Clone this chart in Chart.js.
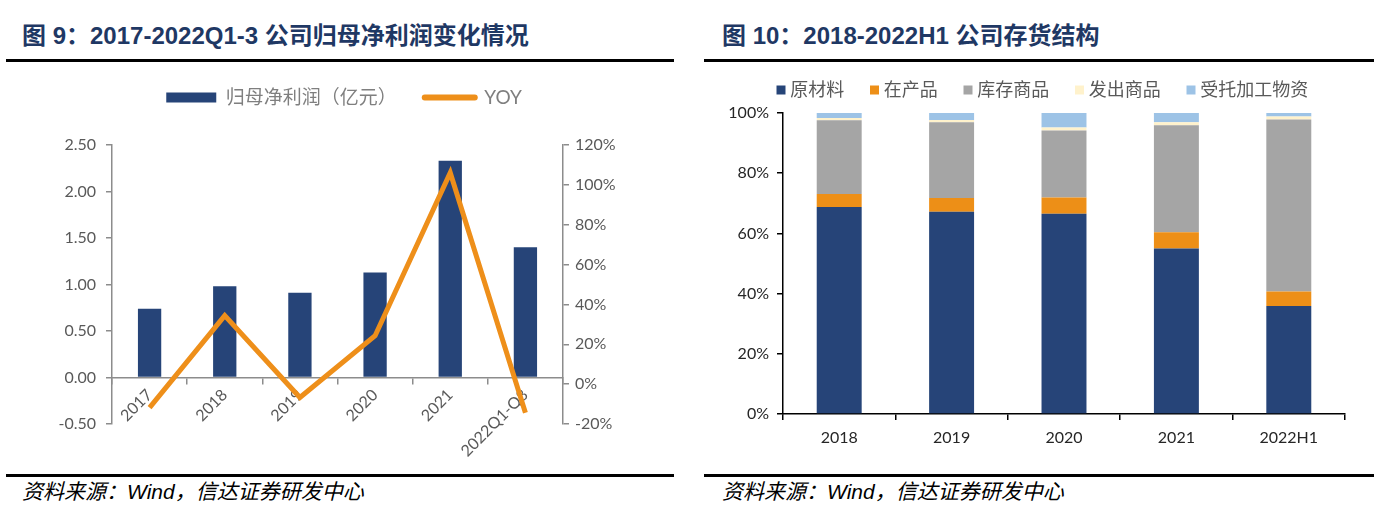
<!DOCTYPE html>
<html><head><meta charset="utf-8">
<script src="https://cdn.jsdelivr.net/npm/chart.js@4.4.0/dist/chart.umd.min.js"></script>
<style>
html,body{margin:0;padding:0;background:#fff;}
body{width:1382px;height:521px;position:relative;overflow:hidden;}
.title{position:absolute;top:22px;height:28px;line-height:28px;font-family:"Liberation Sans","Noto Sans CJK SC",sans-serif;font-weight:bold;font-size:24px;color:#1F3864;white-space:nowrap;}
.rule{position:absolute;height:3px;background:#000;}
.src{position:absolute;top:481px;line-height:22px;font-size:21px;font-style:italic;font-family:"Liberation Sans","Noto Sans CJK SC",sans-serif;color:#000;white-space:nowrap;}
.box{position:absolute;}
</style></head>
<body>
<div class="title" style="left:22px">图 9：2017-2022Q1-3 公司归母净利润变化情况</div>
<div class="title" style="left:722px">图 10：2018-2022H1 公司存货结构</div>
<div class="rule" style="left:6px;width:668px;top:59px"></div>
<div class="rule" style="left:704px;width:670px;top:59px"></div>
<div class="rule" style="left:6px;width:668px;top:474px"></div>
<div class="rule" style="left:704px;width:670px;top:474px"></div>
<div class="src" style="left:22px">资料来源：Wind，信达证券研发中心</div>
<div class="src" style="left:722px">资料来源：Wind，信达证券研发中心</div>
<div class="box" style="left:0;top:60px;width:680px;height:433px"><canvas id="c1"></canvas></div>
<div class="box" style="left:700px;top:51px;width:682px;height:403px"><canvas id="c2"></canvas></div>
<script>
// ---- Chart 1 data ----
const leftCategories = ['2017', '2018', '2019', '2020', '2021', '2022Q1-Q3'];
const netProfit = [0.74, 0.98, 0.91, 1.13, 2.33, 1.40];      // 亿元
const yoyPct = [-11.8, 34.4, -6.7, 24.3, 106.1, -14.3];      // %
const leftSeriesNames = ['归母净利润（亿元）', 'YOY'];

// ---- Chart 2 data ----
const rightCategories = ['2018', '2019', '2020', '2021', '2022H1'];
const rawMaterial = [68.8, 67.2, 66.5, 55.0, 35.9];
const workInProgress = [4.3, 4.6, 5.4, 5.4, 4.8];
const finishedGoods = [24.5, 25.1, 22.3, 35.5, 57.1];
const goodsShipped = [0.7, 0.8, 1.0, 1.0, 1.0];
const consignedMaterials = [1.7, 2.3, 4.8, 3.1, 1.2];
const rightSeriesNames = ['原材料', '在产品', '库存商品', '发出商品', '受托加工物资'];

const NAVY = '#264478';
const ORANGE = '#EE8F1A';
const AXIS1 = '#8C8C8C';
const TICKFONT = 'Lato, "Noto Sans CJK SC", sans-serif';
const CJKFONT = 'Lato, "Noto Sans CJK SC", sans-serif';

// fixes the legend block height and optionally nudges it sideways
function legendLayout(h, dx) {
  return {
    id: 'legendLayout',
    beforeInit(chart) {
      const lg = chart.legend;
      const fit = lg.fit;
      lg.fit = function () { fit.call(this); this.height = h; };
      if (dx) {
        const draw = lg.draw;
        lg.draw = function (...args) {
          this.ctx.save();
          this.ctx.translate(dx, 0);
          draw.apply(this, args);
          this.ctx.restore();
        };
      }
    }
  };
}

new Chart(document.getElementById('c1'), {
  type: 'bar',
  data: {
    labels: leftCategories,
    datasets: [
      { type: 'bar', label: leftSeriesNames[0], data: netProfit, backgroundColor: NAVY,
        yAxisID: 'y', order: 2, barPercentage: 0.31, categoryPercentage: 1 },
      { type: 'line', label: leftSeriesNames[1], data: yoyPct, borderColor: ORANGE, backgroundColor: ORANGE,
        borderWidth: 5, pointRadius: 0, tension: 0, fill: false, yAxisID: 'y1', order: 1 }
    ]
  },
  options: {
    responsive: true, maintainAspectRatio: false, animation: false,
    layout: { padding: { top: 0, left: 0, right: 0, bottom: 69 } },
    plugins: {
      tooltip: { enabled: false },
      legend: {
        position: 'top', align: 'center',
        labels: {
          usePointStyle: true, pointStyleWidth: 50, boxHeight: 10, padding: 28,
          color: '#7F7F7F', font: { family: CJKFONT, size: 19 },
          generateLabels: (chart) => [
            { text: leftSeriesNames[0], fillStyle: NAVY, strokeStyle: NAVY, lineWidth: 0,
              pointStyle: 'rect', datasetIndex: 0, hidden: false, fontColor: '#7F7F7F' },
            { text: leftSeriesNames[1], fillStyle: ORANGE, strokeStyle: ORANGE, lineWidth: 6, lineCap: 'round',
              pointStyle: 'line', datasetIndex: 1, hidden: false, fontColor: '#7F7F7F' }
          ]
        }
      }
    },
    scales: {
      x: {
        position: { y: 0 },
        grid: { display: true, drawOnChartArea: false, drawTicks: true, tickLength: 6, color: AXIS1, lineWidth: 1.5 },
        border: { display: true, color: AXIS1, width: 1.5 },
        ticks: { autoSkip: false, minRotation: 45, maxRotation: 45, color: '#595959',
                 font: { family: TICKFONT, size: 16 }, padding: 2 },
        afterFit: (s) => { s.height = 70; }
      },
      y: {
        position: 'left', min: -0.5, max: 2.5,
        grid: { display: true, drawOnChartArea: false, drawTicks: true, tickLength: 6, color: AXIS1, lineWidth: 1.5 },
        border: { display: true, color: AXIS1, width: 1.5 },
        ticks: { stepSize: 0.5, callback: (v) => Number(v).toFixed(2), color: '#595959',
                 font: { family: TICKFONT, size: 16 }, padding: 10 },
        afterFit: (s) => { s.width = 112; }
      },
      y1: {
        position: 'right', min: -20, max: 120,
        grid: { display: true, drawOnChartArea: false, drawTicks: true, tickLength: 6, color: AXIS1, lineWidth: 1.5 },
        border: { display: true, color: AXIS1, width: 1.5 },
        ticks: { stepSize: 20, callback: (v) => v + '%', color: '#595959',
                 font: { family: TICKFONT, size: 16 }, padding: 6 },
        afterFit: (s) => { s.width = 117; }
      }
    }
  },
  plugins: [legendLayout(85, 4)]
});

const rightSeries = [rawMaterial, workInProgress, finishedGoods, goodsShipped, consignedMaterials];
const rightColors = ['#264478', '#ED8F17', '#A5A5A5', '#FFF2CC', '#9DC3E6'];

new Chart(document.getElementById('c2'), {
  type: 'bar',
  data: {
    labels: rightCategories,
    datasets: rightSeries.map((d, i) => ({
      label: rightSeriesNames[i], data: d, backgroundColor: rightColors[i],
      barPercentage: 0.4, categoryPercentage: 1, stack: 's'
    }))
  },
  options: {
    responsive: true, maintainAspectRatio: false, animation: false,
    layout: { padding: { left: 0, right: 37, top: 0, bottom: 0 } },
    plugins: {
      tooltip: { enabled: false },
      legend: {
        position: 'top', align: 'center',
        labels: {
          usePointStyle: true, pointStyle: 'rect', boxWidth: 0.5, boxHeight: 9, padding: 30,
          color: '#595959', font: { family: CJKFONT, size: 18 }
        }
      }
    },
    scales: {
      x: {
        stacked: true,
        grid: { display: true, drawOnChartArea: false, drawTicks: true, tickLength: 6, color: '#000', lineWidth: 1.5 },
        border: { display: true, color: '#000', width: 1.5 },
        ticks: { color: '#262626', font: { family: TICKFONT, size: 16 }, padding: 8 },
        afterFit: (s) => { s.height = 40; }
      },
      y: {
        stacked: true, min: 0, max: 100,
        grid: { display: true, drawOnChartArea: false, drawTicks: true, tickLength: 6, color: '#000', lineWidth: 1.5 },
        border: { display: true, color: '#000', width: 1.5 },
        ticks: { stepSize: 20, callback: (v) => v + '%', color: '#262626',
                 font: { family: TICKFONT, size: 16 }, padding: 8 },
        afterFit: (s) => { s.width = 83; }
      }
    }
  },
  plugins: [legendLayout(62, 22)]
});
</script>
</body></html>
